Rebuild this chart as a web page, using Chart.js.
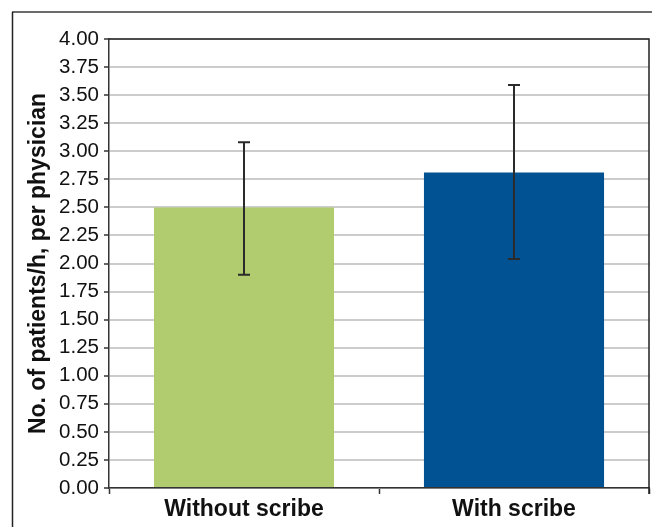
<!DOCTYPE html>
<html>
<head>
<meta charset="utf-8">
<script src="https://cdn.jsdelivr.net/npm/chart.js@4/dist/chart.umd.min.js"></script>
<style>
html, body { margin: 0; padding: 0; background: #fff; }
#wrap { width: 652px; height: 527px; }
</style>
</head>
<body>
<div id="wrap"><canvas id="chart" width="652" height="527"></canvas></div>
<script>
// values
const categories = ['Without scribe', 'With scribe'];
const meanValues = [2.50, 2.81];
const errorLow = [1.90, 2.04];
const errorHigh = [3.08, 3.59];
const barColors = ['#b0cc6e', '#005293'];

// error bars drawn through the y scale
const errorBars = {
    id: 'errorBars',
    afterDatasetsDraw(chart) {
        const { ctx, scales: { y } } = chart;
        const meta = chart.getDatasetMeta(0);
        ctx.save();
        ctx.strokeStyle = '#2b2b2b';
        ctx.lineWidth = 2;
        meta.data.forEach((bar, i) => {
            const x = bar.x;
            const top = y.getPixelForValue(errorHigh[i]);
            const bottom = y.getPixelForValue(errorLow[i]);
            ctx.beginPath();
            ctx.moveTo(x, top);
            ctx.lineTo(x, bottom);
            ctx.moveTo(x - 6, top);
            ctx.lineTo(x + 6, top);
            ctx.moveTo(x - 6, bottom);
            ctx.lineTo(x + 6, bottom);
            ctx.stroke();
        });
        ctx.restore();
    }
};

// outer frame and plot box
const frame = {
    id: 'frame',
    beforeDraw(chart) {
        const { ctx } = chart;
        ctx.save();
        ctx.strokeStyle = '#6b6b6b';
        ctx.lineWidth = 2;
        ctx.beginPath();
        ctx.moveTo(12, 12);
        ctx.lineTo(652, 12);
        ctx.stroke();
        ctx.strokeStyle = '#222';
        ctx.lineWidth = 1.5;
        ctx.beginPath();
        ctx.moveTo(12.5, 12);
        ctx.lineTo(12.5, 527);
        ctx.stroke();
        ctx.restore();
    },
    afterDraw(chart) {
        const { ctx, chartArea: a } = chart;
        ctx.save();
        ctx.strokeStyle = '#222';
        ctx.lineWidth = 1.5;
        ctx.beginPath();
        ctx.moveTo(a.left, a.top);
        ctx.lineTo(a.right, a.top);
        ctx.lineTo(a.right, a.bottom + 6);
        ctx.stroke();
        ctx.restore();
    }
};

Chart.defaults.font.family = '"Liberation Sans", Arial, sans-serif';
Chart.defaults.color = '#111';

new Chart(document.getElementById('chart').getContext('2d'), {
    type: 'bar',
    data: {
        labels: categories,
        datasets: [{
            data: meanValues,
            backgroundColor: barColors,
            borderWidth: 0,
            categoryPercentage: 1,
            barPercentage: 0.667
        }]
    },
    options: {
        responsive: false,
        animation: false,
        layout: { padding: { left: 0, top: 39, right: 3, bottom: 0 } },
        plugins: {
            legend: { display: false },
            tooltip: { enabled: false }
        },
        scales: {
            x: {
                offset: true,
                grid: {
                    offset: true,
                    drawOnChartArea: false,
                    tickLength: 6,
                    tickColor: '#333',
                    tickWidth: 1.5
                },
                border: { color: '#333', width: 1.5 },
                ticks: {
                    padding: 2,
                    font: { size: 23, weight: 'bold' },
                    color: '#111'
                },
                afterFit(scale) { scale.height = 39; }
            },
            y: {
                min: 0,
                max: 4,
                grid: {
                    color: '#cccccc',
                    lineWidth: 2,
                    tickLength: 5,
                    tickColor: '#333',
                    tickWidth: 1.5
                },
                border: { color: '#333', width: 1.5 },
                ticks: {
                    stepSize: 0.25,
                    autoSkip: false,
                    padding: 5,
                    font: { size: 20.5 },
                    color: '#111',
                    callback: (v) => v.toFixed(2)
                },
                title: {
                    display: true,
                    text: 'No. of patients/h, per physician',
                    font: { size: 23, weight: 'bold' },
                    color: '#111',
                    padding: { top: 25, bottom: 0 }
                },
                afterFit(scale) { scale.width = 109; }
            }
        }
    },
    plugins: [errorBars, frame]
});
</script>
</body>
</html>
